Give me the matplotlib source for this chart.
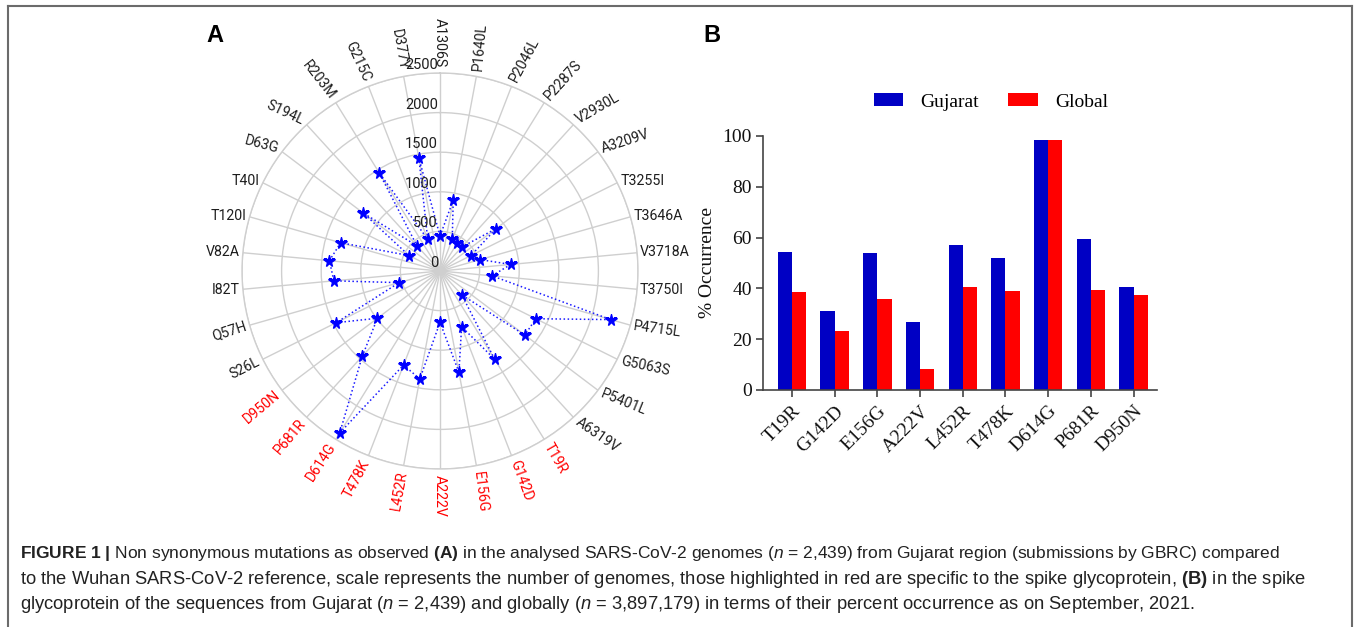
import numpy as np
import matplotlib
matplotlib.use('Agg')
import matplotlib.pyplot as plt
import matplotlib.transforms as mtransforms
from matplotlib.lines import Line2D

# ---------------- data ----------------
mutations = ["A1306S", "P1640L", "P2046L", "P2287S", "V2930L", "A3209V", "T3255I",
             "T3646A", "V3718A", "T3750I", "P4715L", "G5063S", "P5401L", "A6319V",
             "T19R", "G142D", "E156G", "A222V", "L452R", "T478K", "D614G", "P681R",
             "D950N", "S26L", "Q57H", "I82T", "V82A", "T120I", "T40I", "D63G",
             "S194L", "R203M", "G215C", "D377Y"]
counts = [442, 910, 427, 415, 412, 889, 437,
          526, 897, 659, 2242, 1352, 1342, 409,
          1310, 755, 1300, 648, 1386, 1274, 2405, 1457,
          990, 1464, 537, 1345, 1403, 1304, 438, 1212,
          432, 1462, 429, 1455]
spike_mutations = ["T19R", "G142D", "E156G", "A222V", "L452R", "T478K",
                   "D614G", "P681R", "D950N"]
r_ticks = [0, 500, 1000, 1500, 2000, 2500]

bar_cats = ["T19R", "G142D", "E156G", "A222V", "L452R", "T478K", "D614G", "P681R", "D950N"]
gujarat_pct = [54.2, 31.0, 53.8, 26.8, 57.1, 52.0, 98.4, 59.6, 40.7]
global_pct = [38.6, 23.2, 35.7, 8.3, 40.6, 38.8, 98.6, 39.5, 37.3]
y_ticks = [0, 20, 40, 60, 80, 100]

# label rotation (style)
label_rot = [-90, 85, 62, 48, 30, 18, 0,
             0, 0, 0, -8, -12, -22, -35,
             -60, -70, -83, -90, 80, 62, 57, 50,
             40, 27, 18, 0, 0, 0, 0, -15,
             -25, -52, -65, -80]

W, H = 1356, 627
fig = plt.figure(figsize=(W / 100, H / 100), dpi=100)
fig.patch.set_facecolor('white')

# ---------------- panel A: polar ----------------
cx, cy, R = 440, 271, 198
axp = fig.add_axes([(cx - R) / W, 1 - (cy + R) / H, 2 * R / W, 2 * R / H],
                   projection='polar')
axp.set_theta_zero_location('N')
axp.set_theta_direction(-1)
n = len(mutations)
theta = np.arange(n) * 2 * np.pi / n
axp.set_ylim(0, r_ticks[-1])
axp.set_xticks(theta)
axp.set_xticklabels([])
axp.set_yticks(r_ticks[1:])
axp.set_yticklabels([])
axp.grid(True, color='#cfcfcf', lw=1.0)
axp.spines['polar'].set_color('#cfcfcf')
axp.spines['polar'].set_linewidth(1.0)
axp.tick_params(length=0)
axp.set_facecolor('white')

th = np.append(theta, theta[0])
vals = np.append(counts, counts[0])
axp.plot(th, vals, linestyle=':', color='#1a1aff', lw=1.1, zorder=3)
axp.plot(theta, counts, linestyle='none', marker='*', color='#0000ff',
         ms=8.5, zorder=4)

for i, name in enumerate(mutations):
    deg = np.degrees(theta[i])
    ha = 'left' if 0 < deg <= 180.5 else 'right'
    # larger gap for near-vertical labels, small gap for horizontal ones
    off = (2.5 + 3.5 * abs(np.cos(theta[i]))) / 100
    dx = np.sin(theta[i]) * off
    dy = np.cos(theta[i]) * off
    tr = axp.transData + mtransforms.ScaledTranslation(dx, dy, fig.dpi_scale_trans)
    color = 'red' if name in spike_mutations else '#1e1e1e'
    axp.text(theta[i], r_ticks[-1], name, transform=tr, ha=ha, va='center',
             rotation=label_rot[i], rotation_mode='anchor', fontsize=10.2,
             family='Roboto', color=color, clip_on=False)

for r in r_ticks:
    tr = axp.transData + mtransforms.ScaledTranslation(-2 / 100, 1 / 100, fig.dpi_scale_trans)
    axp.text(0, r, str(r), transform=tr, ha='right', va='bottom', fontsize=10.5,
             family='Roboto', color='#1e1e1e', clip_on=False, zorder=5)

# ---------------- panel B: bars ----------------
axb = fig.add_axes([763 / W, 1 - 390 / H, (1157 - 763) / W, (390 - 136) / H])
x = np.arange(len(bar_cats))
w = 1 / 3
axb.bar(x - w / 2, gujarat_pct, w, color='#0000c4', label='Gujarat')
axb.bar(x + w / 2, global_pct, w, color='#ff0000', label='Global')
axb.set_xlim(-0.68, 8.55)
axb.set_ylim(0, 100)
axb.set_yticks(y_ticks)
axb.set_xticks(x)
serif = 'Liberation Serif'
axb.set_yticklabels([str(v) for v in y_ticks], family=serif, fontsize=14)
axb.set_xticklabels(bar_cats, family=serif, fontsize=14, rotation=45,
                    ha='right', rotation_mode='anchor')
for s in ['top', 'right']:
    axb.spines[s].set_visible(False)
for s in ['left', 'bottom']:
    axb.spines[s].set_color('#444444')
    axb.spines[s].set_linewidth(1.2)
axb.tick_params(axis='both', direction='out', length=5, width=1.2, color='#444444',
                labelcolor='#111111')
axb.tick_params(axis='y', pad=3)
axb.tick_params(axis='x', pad=4)
axb.set_ylabel('% Occurrence', family=serif, fontsize=14, color='#111111')
axb.yaxis.set_label_coords((716 - 763) / 394, (390 - 262) / 254)

fig.legend(loc='center', bbox_to_anchor=(991 / W, 1 - 102 / H), ncol=2,
           frameon=False, prop={'family': serif, 'size': 14},
           handlelength=1.5, handleheight=0.6, handletextpad=0.9,
           columnspacing=1.5)

# ---------------- panel letters ----------------
fig.text(215 / W, 1 - 35 / H, 'A', ha='center', va='center', fontsize=17,
         weight='bold', family='Liberation Sans')
fig.text(712 / W, 1 - 35 / H, 'B', ha='center', va='center', fontsize=17,
         weight='bold', family='Liberation Sans')

# ---------------- caption ----------------
plt.rcParams['mathtext.fontset'] = 'custom'
plt.rcParams['mathtext.rm'] = 'Liberation Sans'
plt.rcParams['mathtext.bf'] = 'Liberation Sans:bold'
plt.rcParams['mathtext.it'] = 'Liberation Sans:italic'

cap1 = (r"$\mathbf{FIGURE\ 1\ |}$ Non synonymous mutations as observed $\mathbf{(A)}$ "
        r"in the analysed SARS-CoV-2 genomes ($\mathit{n}$ = 2,439) from Gujarat region "
        r"(submissions by GBRC) compared")
cap2 = (r"to the Wuhan SARS-CoV-2 reference, scale represents the number of genomes, "
        r"those highlighted in red are specific to the spike glycoprotein, $\mathbf{(B)}$ in the spike")
cap3 = (r"glycoprotein of the sequences from Gujarat ($\mathit{n}$ = 2,439) and globally "
        r"($\mathit{n}$ = 3,897,179) in terms of their percent occurrence as on September, 2021.")

renderer = fig.canvas.get_renderer()
for cap, yb, xend in [(cap1, 558, 1275), (cap2, 584, 1304), (cap3, 609, 1195)]:
    t = fig.text(20 / W, 1 - yb / H, cap, ha='left', va='baseline', fontsize=11,
                 family='Liberation Sans', color='#222222')
    bb = t.get_window_extent(renderer=renderer)
    t.set_fontsize(11 * (xend - 20) / bb.width)

# ---------------- frame ----------------
lc = '#6b6b6b'
fig.add_artist(Line2D([8 / W, 8 / W], [0, 1 - 6 / H], transform=fig.transFigure, color=lc, lw=1.5))
fig.add_artist(Line2D([8 / W, 1352 / W], [1 - 6 / H, 1 - 6 / H], transform=fig.transFigure, color=lc, lw=1.5))
fig.add_artist(Line2D([1352 / W, 1352 / W], [0, 1 - 6 / H], transform=fig.transFigure, color=lc, lw=1.5))

fig.savefig('out.png', dpi=100, facecolor='white')
